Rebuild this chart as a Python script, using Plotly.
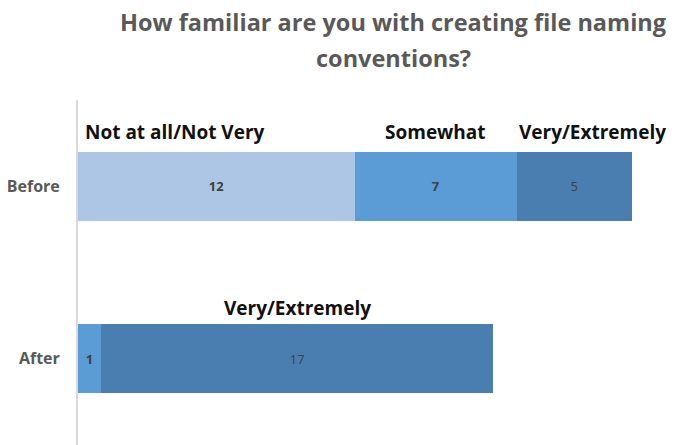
import plotly.graph_objects as go

categories = ["Before", "After"]
series_names = ["Not at all/Not Very", "Somewhat", "Very/Extremely"]
not_at_all = [12, 0]
somewhat = [7, 1]
very = [5, 17]
title_lines = ["How familiar are you with creating file naming", "conventions?"]
colors = ["#ADC6E6", "#5B9BD6", "#4A7EB0"]
text_bold = [True, True, False]

series_values = [not_at_all, somewhat, very]

fig = go.Figure()
for name, vals, col, b in zip(series_names, series_values, colors, text_bold):
    labels = [(f"<b>{v}</b>" if b else str(v)) if v else "" for v in vals]
    fig.add_trace(go.Bar(
        y=categories, x=vals, name=name, orientation="h",
        marker=dict(color=col, line=dict(width=0)),
        text=labels, textposition="inside", insidetextanchor="middle",
        textfont=dict(family="Open Sans", size=13, color="#404040"),
        hoverinfo="skip",
    ))

cap_font = dict(family="Open Sans", size=19, color="#111111")
annotations = []
for ci, cat in enumerate(categories):
    start = 0
    for si, name in enumerate(series_names):
        v = series_values[si][ci]
        if v:
            if ci == 0 and si == 0:
                annotations.append(dict(x=start, y=cat, text=f"<b>{name}</b>",
                                        xanchor="left", xshift=5, yshift=54))
            elif ci == 0 and si == 2:
                annotations.append(dict(x=start, y=cat, text=f"<b>{name}</b>",
                                        xanchor="left", xshift=0, yshift=54))
            elif ci == 0 or (ci == 1 and si == 2):
                annotations.append(dict(x=start + v / 2, y=cat, text=f"<b>{name}</b>",
                                        xanchor="center", yshift=54 if ci == 0 else 51))
        start += v
for a in annotations:
    a.update(xref="x", yref="y", showarrow=False, font=cap_font)

for line, ypos in zip(title_lines, [1.226, 1.1217]):
    annotations.append(dict(x=0.546, y=ypos, xref="paper", yref="paper", text=f"<b>{line}</b>",
                            xanchor="center", yanchor="middle", showarrow=False,
                            font=dict(family="Open Sans", size=23.5, color="#595959")))

fig.update_layout(
    width=676, height=445,
    margin=dict(l=70, r=29, t=92, b=8, autoexpand=False),
    paper_bgcolor="white", plot_bgcolor="white",
    barmode="stack", bargap=0.6, showlegend=False,
    annotations=annotations,
)
fig.update_xaxes(range=[0, 25], showgrid=False, showticklabels=False, zeroline=False,
                 showline=False, automargin=False)
fig.update_yaxes(autorange="reversed", showline=True, linecolor="#D9D9D9", linewidth=2,
                 showgrid=False, ticks="", ticklabelstandoff=13, automargin=False,
                 tickfont=dict(family="Open Sans", size=16, color="#595959"),
                 tickvals=categories, ticktext=[f"<b>{c}</b>" for c in categories])

fig.write_html("out.html")
